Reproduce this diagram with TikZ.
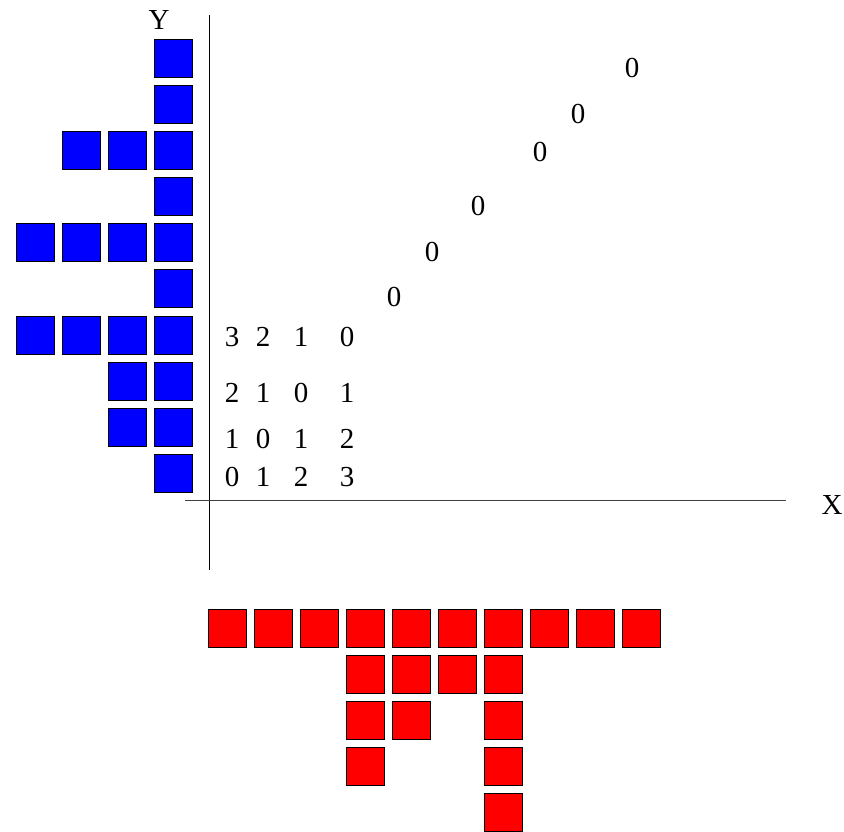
\documentclass[tikz,border=0pt]{standalone}
\usepackage{fontspec}
\setmainfont{Liberation Serif}
\begin{document}
\begin{tikzpicture}[x=1pt,y=-1pt,
  cell/.style={draw=black, line width=0.9pt, minimum size=38pt, inner sep=0pt, outer sep=0pt},
  bcell/.style={cell, fill=blue},
  rcell/.style={cell, fill=red},
  num/.style={font=\fontsize{29}{29}\selectfont, inner sep=0pt},
  axisline/.style={line width=1pt, draw=black}]
\useasboundingbox (0,0) rectangle (844,832);
% blue squares
\foreach \r/\n in {1/1,2/1,3/3,4/1,5/4,6/1,7/4,8/2,9/2,10/1}{
  \foreach \c in {1,...,\n}{
    \node[bcell] (b\r-\c) at ({173.5-46*(\c-1)},{58.2+46.14*(\r-1)}) {};
  }
}
% red squares
\foreach \r/\cols in {1/{1,2,3,4,5,6,7,8,9,10},2/{4,5,6,7},3/{4,5,7},4/{4,7},5/{7}}{
  \foreach \c in \cols{
    \node[rcell] (r\r-\c) at ({227.8+46*(\c-1)},{628.5+46*(\r-1)}) {};
  }
}
% axes
\coordinate (ytop) at (209,15);
\coordinate (ybot) at (209,570);
\coordinate (xleft) at (185,500.7);
\coordinate (xright) at (786,500.7);
\draw[axisline] (ytop) -- (ybot);
\draw[axisline, draw=black!75] (xleft) -- (xright);
\node[num] (ylab) at (159,20) {Y};
\node[num] (xlab) at (832,505) {X};
% number grid
\foreach \v [count=\i] in {3,2,1,0}{
  \pgfmathsetmacro{\xx}{{232,263,301,347}[\i-1]}
  \node[num] (ga-\i) at (\xx,337) {\v};
}
\foreach \v [count=\i] in {2,1,0,1}{
  \pgfmathsetmacro{\xx}{{232,263,301,347}[\i-1]}
  \node[num] (gb-\i) at (\xx,393) {\v};
}
\foreach \v [count=\i] in {1,0,1,2}{
  \pgfmathsetmacro{\xx}{{232,263,301,347}[\i-1]}
  \node[num] (gc-\i) at (\xx,439) {\v};
}
\foreach \v [count=\i] in {0,1,2,3}{
  \pgfmathsetmacro{\xx}{{232,263,301,347}[\i-1]}
  \node[num] (gd-\i) at (\xx,477) {\v};
}
% diagonal zeros
\foreach \px/\py [count=\i] in {394/297,432/252,478/206,540/152,578/114,632/68}{
  \node[num] (d\i) at (\px,\py) {0};
}
\end{tikzpicture}
\end{document}
